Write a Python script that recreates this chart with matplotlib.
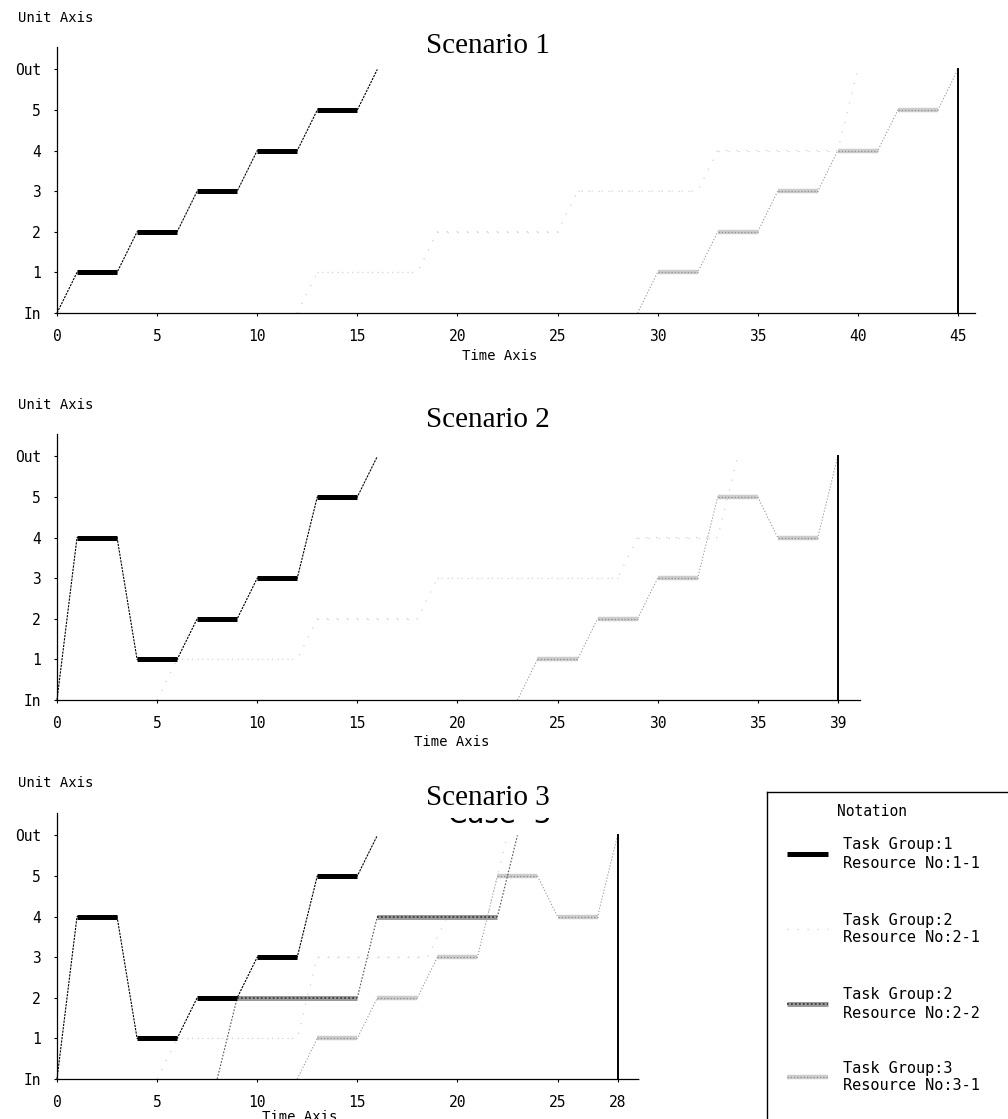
import matplotlib
matplotlib.use('Agg')
import matplotlib.pyplot as plt
from matplotlib.lines import Line2D

plt.rcParams['font.family'] = ['DejaVu Sans Mono', 'DejaVu Sans']

W, H, DPI = 1008, 1119, 100

# ---------------- data ----------------
unit_labels = ['In', '1', '2', '3', '4', '5', 'Out']
unit_levels = [0, 1, 2, 3, 4, 5, 6]
titles = ['Scenario 1', 'Scenario 2', 'Scenario 3']
makespan = [45, 39, 28]
xticks_s1 = [0, 5, 10, 15, 20, 25, 30, 35, 40, 45]
xticks_s2 = [0, 5, 10, 15, 20, 25, 30, 35, 39]
xticks_s3 = [0, 5, 10, 15, 20, 25, 28]
legend_title = 'Notation'
legend_labels = ['Task Group:1\nResource No:1-1',
                 'Task Group:2\nResource No:2-1',
                 'Task Group:2\nResource No:2-2',
                 'Task Group:3\nResource No:3-1']

# Scenario 1
s1_g1_time = [0, 1, 3, 4, 6, 7, 9, 10, 12, 13, 15, 16]
s1_g1_unit = [0, 1, 1, 2, 2, 3, 3, 4, 4, 5, 5, 6]
s1_g21_time = [12, 13, 18, 19, 25, 26, 32, 33, 39, 40]
s1_g21_unit = [0, 1, 1, 2, 2, 3, 3, 4, 4, 6]
s1_g3_time = [29, 30, 32, 33, 35, 36, 38, 39, 41, 42, 44, 45]
s1_g3_unit = [0, 1, 1, 2, 2, 3, 3, 4, 4, 5, 5, 6]

# Scenario 2
s2_g1_time = [0, 1, 3, 4, 6, 7, 9, 10, 12, 13, 15, 16]
s2_g1_unit = [0, 4, 4, 1, 1, 2, 2, 3, 3, 5, 5, 6]
s2_g21_time = [5, 6, 12, 13, 18, 19, 28, 29, 33, 34]
s2_g21_unit = [0, 1, 1, 2, 2, 3, 3, 4, 4, 6]
s2_g3_time = [23, 24, 26, 27, 29, 30, 32, 33, 35, 36, 38, 39]
s2_g3_unit = [0, 1, 1, 2, 2, 3, 3, 5, 5, 4, 4, 6]

# Scenario 3
s3_g1_time = [0, 1, 3, 4, 6, 7, 9, 10, 12, 13, 15, 16]
s3_g1_unit = [0, 4, 4, 1, 1, 2, 2, 3, 3, 5, 5, 6]
s3_g21_time = [5, 6, 12, 13, 18.5, 19.5, 21.5, 22.5]
s3_g21_unit = [0, 1, 1, 3, 3, 4, 4, 6]
s3_g22_time = [8, 9, 15, 16, 22, 23]
s3_g22_unit = [0, 2, 2, 4, 4, 6]
s3_g3_time = [12, 13, 15, 16, 18, 19, 21, 22, 24, 25, 27, 28]
s3_g3_unit = [0, 1, 1, 2, 2, 3, 3, 5, 5, 4, 4, 6]

# ---------------- styles ----------------
STY = {
    'g1': dict(trans=dict(color='black', lw=0.8, ls=(0, (2, 1))),
               plat=dict(color='black', lw=3.6, solid_capstyle='butt'),
               over=None),
    'g21': dict(trans=dict(color='#d2d2d2', lw=0.9, ls=(0, (1, 7))),
                plat=dict(color='#d2d2d2', lw=0.9, ls=(0, (1, 7))),
                over=None),
    'g22': dict(trans=dict(color='#555555', lw=0.8, ls=(0, (1.5, 1.5))),
                plat=dict(color='#9a9a9a', lw=3.6, solid_capstyle='butt'),
                over=dict(color='#3c3c3c', lw=1.3, ls=(0, (1, 1.2)))),
    'g3': dict(trans=dict(color='#8c8c8c', lw=0.7, ls=(0, (1.2, 2))),
               plat=dict(color='#cdcdcd', lw=3.2, solid_capstyle='butt'),
               over=dict(color='#8e8e8e', lw=0.9, ls=(0, (1, 1.6)))),
}


def draw_series(ax, t, u, key):
    s = STY[key]
    ax.plot(t, u, clip_on=False, **s['trans'])
    for i in range(len(t) - 1):
        if u[i] == u[i + 1]:
            ax.plot(t[i:i + 2], u[i:i + 2], clip_on=False, **s['plat'])
            if s['over']:
                ax.plot(t[i:i + 2], u[i:i + 2], clip_on=False, **s['over'])


fig = plt.figure(figsize=(W / DPI, H / DPI), dpi=DPI)

PXX = 20.02   # px per time unit
PXY = 40.6    # px per unit level
X0 = 57
YTOP = 6.55

panels = [
    dict(base=313, xend=45.85, ticks=xticks_s1,
         series=[(s1_g21_time, s1_g21_unit, 'g21'), (s1_g3_time, s1_g3_unit, 'g3'),
                 (s1_g1_time, s1_g1_unit, 'g1')],
         title_y=46, unit_y=18, time_xy=(500, 356)),
    dict(base=700, xend=40.1, ticks=xticks_s2,
         series=[(s2_g21_time, s2_g21_unit, 'g21'), (s2_g3_time, s2_g3_unit, 'g3'),
                 (s2_g1_time, s2_g1_unit, 'g1')],
         title_y=420, unit_y=405, time_xy=(452, 742)),
    dict(base=1079, xend=29.05, ticks=xticks_s3,
         series=[(s3_g21_time, s3_g21_unit, 'g21'), (s3_g3_time, s3_g3_unit, 'g3'),
                 (s3_g22_time, s3_g22_unit, 'g22'), (s3_g1_time, s3_g1_unit, 'g1')],
         title_y=798, unit_y=783, time_xy=(300, 1117)),
]

for k, p in enumerate(panels):
    wpx = p['xend'] * PXX
    hpx = YTOP * PXY
    ax = fig.add_axes([X0 / W, 1 - p['base'] / H, wpx / W, hpx / H])
    ax.set_xlim(0, p['xend'])
    ax.set_ylim(0, YTOP)
    for sp in ('top', 'right'):
        ax.spines[sp].set_visible(False)
    for sp in ('left', 'bottom'):
        ax.spines[sp].set_linestyle((0, (1, 1)))
        ax.spines[sp].set_linewidth(0.9)
    ax.set_yticks(unit_levels)
    ax.set_yticklabels(unit_labels)
    ax.set_xticks(p['ticks'])
    ax.set_xticklabels([str(v) for v in p['ticks']])
    ax.tick_params(axis='both', length=2.5, width=0.8, labelsize=10.5)
    ax.tick_params(axis='y', pad=9)
    ax.tick_params(axis='x', pad=9)
    for t, u, key in p['series']:
        draw_series(ax, t, u, key)
    ax.plot([makespan[k], makespan[k]], [unit_levels[0], unit_levels[-1]],
            color='black', lw=1.4, clip_on=False)
    fig.text(488 / W, 1 - p['title_y'] / H, titles[k], ha='center', va='center',
             fontsize=21, family='Liberation Serif', zorder=6)
    fig.text(56 / W, 1 - p['unit_y'] / H, 'Unit Axis', ha='center', va='center',
             fontsize=10)
    tx, ty = p['time_xy']
    fig.text(tx / W, 1 - ty / H, 'Time Axis', ha='center', va='center', fontsize=10)

# remnant of the old "Case 3" heading: only its lower strip is visible,
# clipped by a small invisible axes
cax = fig.add_axes([425 / W, 1 - 826 / H, 150 / W, 8 / H])
cax.set_axis_off()
cax.text(0.5, 3 / 8, 'Case  3', transform=cax.transAxes, ha='center',
         va='baseline', fontsize=20, family='DejaVu Sans', color='black',
         clip_on=True)

# ---------------- legend box ----------------
BL, BT = 767, 792
fig.add_artist(Line2D([BL / W, BL / W], [1 - BT / H, 0], color='black', lw=1.0,
                      transform=fig.transFigure))
fig.add_artist(Line2D([BL / W, 1], [1 - BT / H, 1 - BT / H], color='black', lw=1.0,
                      transform=fig.transFigure))
fig.text(872 / W, 1 - 812 / H, legend_title, ha='center', va='center', fontsize=10.5)

leg_keys = ['g1', 'g21', 'g22', 'g3']
leg_y = [854, 929, 1004, 1077]
for key, lab, yy in zip(leg_keys, legend_labels, leg_y):
    s = STY[key]
    kw = dict(s['plat'])
    fig.add_artist(Line2D([787 / W, 828 / W], [1 - yy / H, 1 - yy / H],
                          transform=fig.transFigure, **kw))
    if s['over']:
        fig.add_artist(Line2D([787 / W, 828 / W], [1 - yy / H, 1 - yy / H],
                              transform=fig.transFigure, **s['over']))
    fig.text(843 / W, 1 - yy / H, lab, ha='left', va='center', fontsize=11,
             linespacing=1.25)

fig.savefig('out.png', dpi=DPI)
